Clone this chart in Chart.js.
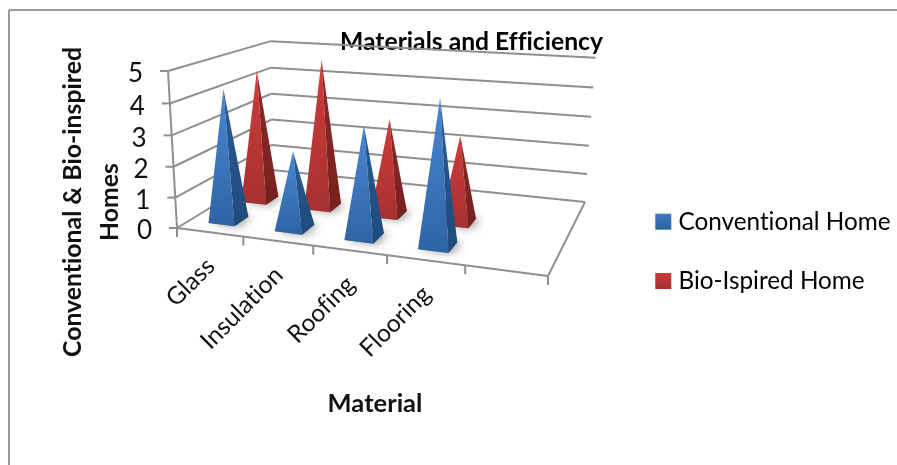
<!DOCTYPE html>
<html>
<head>
<meta charset="utf-8">
<title>Materials and Efficiency</title>
<script src="https://cdn.jsdelivr.net/npm/chart.js@4"></script>
<style>
  html, body { margin: 0; padding: 0; background: #fff; }
  #box { position: relative; width: 897px; height: 465px; }
</style>
</head>
<body>
<div id="box"><canvas id="myChart" width="897" height="465"></canvas></div>
<script>
const categories = ['Glass', 'Insulation', 'Roofing', 'Flooring', ''];
const conventionalHome = [4.3, 2.5, 3.5, 4.5, null];
const bioIspiredHome = [4.5, 5.0, 3.2, 2.85, null];
const yTicks = [0, 1, 2, 3, 4, 5];

const fontName = 'Lato, Carlito, sans-serif';
const gridColor = '#8f8f8f';

// screen corners of the 3d box, floor first (front left, front right, back right, back left)
const corners = [[177, 228], [548, 276], [585, 202], [272, 170]];
const topFrontLeft = [168, 71];
const heightPersp = -0.04;
const backTopFix = [3, 3];

// square -> quad homography for the floor, height added on top of it
const sx = corners[0][0] - corners[1][0] + corners[2][0] - corners[3][0];
const sy = corners[0][1] - corners[1][1] + corners[2][1] - corners[3][1];
const dx1 = corners[1][0] - corners[2][0], dx2 = corners[3][0] - corners[2][0];
const dy1 = corners[1][1] - corners[2][1], dy2 = corners[3][1] - corners[2][1];
const den = dx1 * dy2 - dx2 * dy1;
const perspU = (sx * dy2 - dx2 * sy) / den;
const perspV = (dx1 * sy - sx * dy1) / den;

function project(u, v, h) {
  const w = 1 + perspU * u + perspV * v + heightPersp * h;
  const o = corners[0];
  const pu = corners[1], pv = corners[3], ph = topFrontLeft;
  const point = [0, 1].map(k =>
    (o[k]
    + ((1 + perspU) * pu[k] - o[k]) * u
    + ((1 + perspV) * pv[k] - o[k]) * v
    + ((1 + heightPersp) * ph[k] - o[k]) * h) / w
    + backTopFix[k] * v * h);
  return point;
}

function line(ctx, a, b) {
  ctx.beginPath();
  ctx.moveTo(a[0], a[1]);
  ctx.lineTo(b[0], b[1]);
  ctx.stroke();
}

function poly(ctx, points) {
  ctx.beginPath();
  points.forEach((p, i) => i == 0 ? ctx.moveTo(p[0], p[1]) : ctx.lineTo(p[0], p[1]));
  ctx.closePath();
}

function drawPyramid(ctx, u, v, h, colors) {
  const du = 0.04, dv = 0.07;
  const fl = project(u - du, v - dv, 0);
  const fr = project(u + du, v - dv, 0);
  const br = project(u + du, v + dv, 0);
  const bl = project(u - du, v + dv, 0);
  const apex = project(u, v, h);

  // soft shadow on the floor
  ctx.save();
  ctx.shadowColor = 'rgba(0,0,0,0.6)';
  ctx.shadowBlur = 9;
  ctx.shadowOffsetX = 4;
  ctx.shadowOffsetY = 0;
  ctx.fillStyle = 'rgba(120,120,120,0.7)';
  poly(ctx, [fl, fr, br, bl]);
  ctx.fill();
  ctx.restore();

  let grad = ctx.createLinearGradient(0, apex[1], 0, fr[1]);
  grad.addColorStop(0, colors[0]);
  grad.addColorStop(1, colors[1]);
  ctx.fillStyle = grad;
  poly(ctx, [fl, fr, apex]);
  ctx.fill();

  grad = ctx.createLinearGradient(0, apex[1], 0, fr[1]);
  grad.addColorStop(0, colors[2]);
  grad.addColorStop(1, colors[3]);
  ctx.fillStyle = grad;
  poly(ctx, [fr, br, apex]);
  ctx.fill();
}

const blueFaces = ['#4a88d2', '#2e64a4', '#2a5c96', '#1f4a7b'];
const redFaces = ['#cf3d3b', '#a63030', '#8f2a28', '#77201f'];
const swatches = [['#3f7cc6', '#2b5f9e'], ['#cc3c3a', '#a02e2d']];

const box3d = {
  id: 'box3d',
  beforeDraw(chart) {
    // no fi / ti ligatures, the reference has none
    chart.ctx.textRendering = 'optimizeSpeed';
  },
  beforeDatasetsDraw(chart) {
    const ctx = chart.ctx;
    const xs = chart.scales.x, ys = chart.scales.y;
    const uOf = i => (xs.getPixelForValue(i) - xs.left) / xs.width;
    const hOf = val => (ys.bottom - ys.getPixelForValue(val)) / ys.height;

    ctx.save();
    // outer frame, only top and left show in the picture
    ctx.strokeStyle = '#9a9a9a';
    ctx.lineWidth = 2;
    line(ctx, [9, 465], [9, 10]);
    line(ctx, [9, 10], [897, 10]);

    // walls
    ctx.strokeStyle = gridColor;
    ctx.lineWidth = 2;
    yTicks.forEach(t => {
      const h = hOf(t);
      line(ctx, project(0, 0, h), project(0, 1, h));
      line(ctx, project(0, 1, h), project(1, 1, h));
      const p = project(0, 0, h);
      line(ctx, p, [p[0] - 8, p[1]]);
    });
    line(ctx, project(0, 0, 0), project(0, 0, 1));

    // floor edges and category ticks
    line(ctx, project(0, 0, 0), project(1, 0, 0));
    line(ctx, project(1, 0, 0), project(1, 1, 0));
    categories.concat(['end']).forEach((c, i) => {
      const p = project(i / categories.length, 0, 0);
      line(ctx, p, [p[0], p[1] + 9]);
    });

    // back series first
    chart.data.datasets[1].data.forEach((val, i) => {
      if (val != null) drawPyramid(ctx, uOf(i), 0.51, hOf(val), redFaces);
    });
    chart.data.datasets[0].data.forEach((val, i) => {
      if (val != null) drawPyramid(ctx, uOf(i), 0.18, hOf(val), blueFaces);
    });

    // tick labels
    ctx.fillStyle = '#111';
    ctx.font = '26px ' + fontName;
    ctx.textAlign = 'right';
    ctx.textBaseline = 'middle';
    yTicks.forEach(t => {
      const p = project(0, 0, hOf(t));
      ctx.fillText(String(t), p[0] - 25, p[1] + 3);
    });
    ctx.font = '24.5px ' + fontName;
    categories.forEach((c, i) => {
      const p = project(uOf(i), 0, 0);
      ctx.save();
      ctx.translate(p[0] + 1, p[1] + 30);
      ctx.rotate(-Math.PI / 4);
      ctx.fillText(c, 0, 0);
      ctx.restore();
    });

    // axis titles
    ctx.font = 'bold 25.5px ' + fontName;
    ctx.textAlign = 'center';
    ctx.fillText('Material', 375, 404);
    ctx.font = 'bold 24.8px ' + fontName;
    ctx.save();
    ctx.translate(73, 202);
    ctx.rotate(-Math.PI / 2);
    ctx.fillText('Conventional & Bio-inspired', 0, 0);
    ctx.fillText('Homes', 0, 37);
    ctx.restore();
    ctx.restore();
  },
  afterDraw(chart) {
    // legend swatches sit closer to the text than the legend would put them
    const ctx = chart.ctx;
    chart.legend.legendHitBoxes.forEach((hit, i) => {
      const top = hit.top + (hit.height - 16) / 2;
      const grad = ctx.createLinearGradient(0, top, 0, top + 16);
      grad.addColorStop(0, swatches[i][0]);
      grad.addColorStop(1, swatches[i][1]);
      ctx.fillStyle = grad;
      ctx.fillRect(hit.left + 5, top, 16, 16);
    });
  }
};

let ctx = document.getElementById('myChart').getContext('2d');

let myChart = new Chart(ctx, {
  type: 'bar',
  data: {
    labels: categories,
    datasets: [
      { label: 'Conventional Home', data: conventionalHome, backgroundColor: 'transparent' },
      { label: 'Bio-Ispired Home', data: bioIspiredHome, backgroundColor: 'transparent' }
    ]
  },
  options: {
    responsive: false,
    animation: false,
    layout: { padding: { left: 42, right: -4, top: 27, bottom: 19 } },
    scales: {
      x: { display: false },
      y: { display: false, min: 0, max: 5 }
    },
    plugins: {
      tooltip: { enabled: false },
      title: {
        display: true,
        text: 'Materials and Efficiency',
        color: '#000',
        padding: 0,
        font: { family: fontName, size: 24.7, weight: 'bold' }
      },
      legend: {
        position: 'right',
        fullSize: false,
        labels: {
          color: '#111',
          boxWidth: 16,
          boxHeight: 16,
          padding: 35,
          font: { family: fontName, size: 24.3 },
          generateLabels: chart => chart.data.datasets.map((ds, i) => (
            { text: ds.label, fillStyle: 'transparent', strokeStyle: 'transparent', lineWidth: 0, datasetIndex: i }
          ))
        }
      }
    }
  },
  plugins: [box3d]
});
</script>
</body>
</html>
